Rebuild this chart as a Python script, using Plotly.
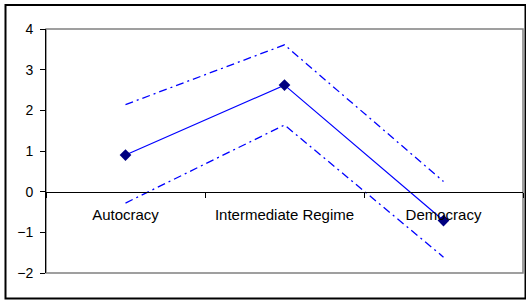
import plotly.graph_objects as go

categories = ["Autocracy", "Intermediate Regime", "Democracy"]
estimate = [0.90, 2.62, -0.71]
upper = [2.14, 3.61, 0.25]
lower = [-0.28, 1.64, -1.61]
y_ticks = [-2, -1, 0, 1, 2, 3, 4]

W, H = 526, 301
ml, mr, mt, mb = 46, 3, 29, 28
pw, ph = W - ml - mr, H - mt - mb

fig = go.Figure()
dash = "8px,4px,2px,4px"
fig.add_trace(go.Scatter(x=categories, y=upper, mode="lines",
                         line=dict(color="#0000FF", width=1.3, dash=dash)))
fig.add_trace(go.Scatter(x=categories, y=lower, mode="lines",
                         line=dict(color="#0000FF", width=1.3, dash=dash)))
fig.add_trace(go.Scatter(x=categories, y=estimate, mode="lines+markers",
                         line=dict(color="#0000FF", width=1.2),
                         marker=dict(symbol="diamond", size=9, color="#000080")))

ymin, ymax = -2, 4
zero_pos = (0 - ymin) / (ymax - ymin)

def px_x(p):
    return (p - ml) / pw

def px_y(p):
    return (H - mb - p) / ph

fig.update_layout(
    width=W, height=H,
    margin=dict(l=ml, r=mr, t=mt, b=mb),
    paper_bgcolor="white", plot_bgcolor="white",
    showlegend=False,
    font=dict(family="Liberation Sans, Arial", size=13, color="black"),
    xaxis=dict(type="category", anchor="free", position=zero_pos,
               showline=True, linecolor="black", linewidth=1,
               ticks="outside", tickson="boundaries", ticklen=5,
               tickcolor="black", showgrid=False, zeroline=False,
               range=[-0.5, 2.5], ticklabelstandoff=9,
               tickfont=dict(size=15)),
    yaxis=dict(range=[ymin, ymax], tickvals=y_ticks, showline=True,
               linecolor="black", linewidth=1, ticks="outside", ticklen=5,
               tickcolor="black", showgrid=False, zeroline=False,
               ticklabelstandoff=4, tickfont=dict(size=14)),
    shapes=[
        dict(type="rect", xref="paper", yref="paper", x0=0, x1=1, y0=0, y1=1,
             line=dict(color="#808080", width=1.5), layer="below"),
        dict(type="rect", xref="paper", yref="paper",
             x0=px_x(5.5), x1=px_x(525.5), y0=px_y(298.5), y1=px_y(5),
             line=dict(color="black", width=2), layer="above"),
    ],
)

fig.write_html("out.html", config={"displayModeBar": False},
               post_script="document.body.style.margin='0';document.body.style.padding='0';document.documentElement.style.overflow='hidden';")
